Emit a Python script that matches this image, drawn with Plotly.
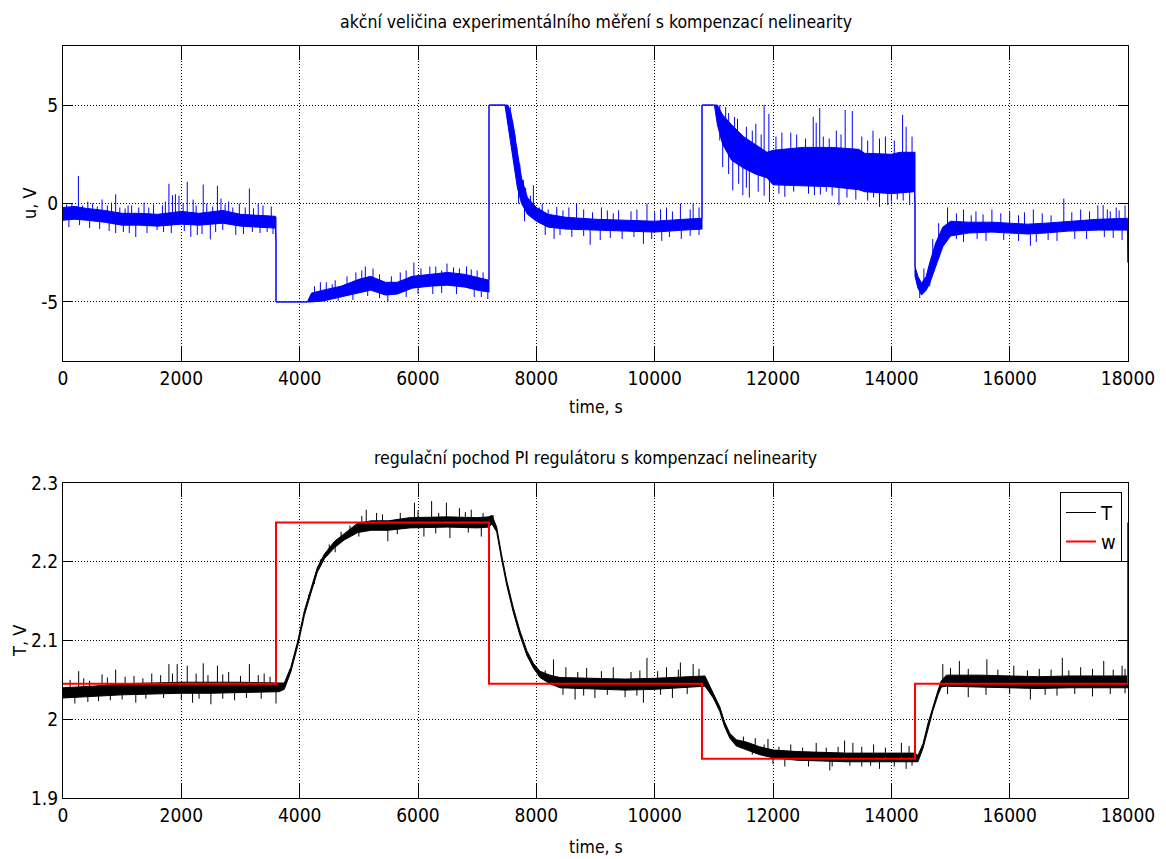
import numpy as np
import plotly.graph_objects as go

# ---------------- data ----------------
# u(t): dense noise band (lower / upper envelope) + individual spikes
U_T  = [0, 200, 400, 700, 1000, 1300, 1600, 2000, 2300, 2700, 3000, 3300, 3590, 3600, 3600, 4130,
        4200, 4400, 4700, 5000, 5200, 5450, 5650, 5900, 6200, 6500, 6800, 7000, 7190, 7200, 7200, 7470,
        7520, 7570, 7620, 7680, 7750, 7850, 8000, 8200, 8500, 9000, 9500, 10000, 10500, 10790, 10800, 10800, 11010,
        11060, 11150, 11300, 11500, 11700, 11900, 12000, 12500, 13000, 13450, 13550, 14000, 14150, 14390, 14400, 14400,
        14450, 14510, 14590, 14650, 14750, 14870, 15000, 15300, 15700, 16000, 16300, 16600, 17000, 17500, 17990, 18000]
U_LO = [-0.85, -0.8, -0.85, -0.95, -1.1, -1.1, -1.15, -1.05, -1.1, -1.0, -1.15, -1.2, -1.25, -1.9, -5, -5,
        -5.0, -4.95, -4.75, -4.55, -4.4, -4.65, -4.6, -4.3, -4.2, -4.15, -4.25, -4.4, -4.5, -4.5, 5, 5,
        4.0, 3.0, 1.9, 0.8, 0.0, -0.55, -0.9, -1.2, -1.3, -1.35, -1.4, -1.45, -1.35, -1.3, -1.3, 5, 5,
        4.0, 3.0, 2.2, 1.8, 1.5, 1.3, 0.95, 0.9, 0.85, 0.7, 0.6, 0.5, 0.55, 0.6, 0.0, -3.7,
        -4.3, -4.65, -4.4, -4.05, -3.2, -2.2, -1.65, -1.5, -1.45, -1.5, -1.55, -1.5, -1.4, -1.35, -1.35, -3.0]
U_HI = [-0.2, -0.15, -0.25, -0.35, -0.5, -0.5, -0.55, -0.4, -0.5, -0.35, -0.55, -0.6, -0.65, -0.7, -5, -5,
        -4.55, -4.4, -4.2, -3.85, -3.7, -4.0, -4.0, -3.7, -3.6, -3.5, -3.6, -3.75, -3.9, -3.9, 5, 5,
        5.0, 4.6, 3.8, 2.6, 1.3, 0.3, -0.2, -0.55, -0.7, -0.8, -0.85, -0.9, -0.8, -0.75, -0.75, 5, 5,
        5.0, 4.5, 4.0, 3.4, 3.0, 2.6, 2.7, 2.85, 2.85, 2.75, 2.55, 2.5, 2.6, 2.6, 2.6, -3.2,
        -3.7, -4.05, -3.7, -3.0, -2.0, -1.2, -0.9, -0.95, -0.95, -1.0, -1.05, -1.0, -0.9, -0.8, -0.75, -3.0]
# large spikes
U_SPIKE_T = [260, 660, 890, 1370, 1790, 1850, 1900, 1960, 2100, 2200, 2370, 2610, 2670, 2800, 3150, 3300, 500, 1100,
             890, 1230, 1590, 2160, 2270, 2490, 2920, 3450,
             4350, 4600, 5110, 5240, 5700, 5930, 6200, 6490, 6820, 7000, 5490, 4900, 6000, 7070, 7180,
             7670, 7950, 8100, 8345, 8680, 9100, 9390, 9870, 10200, 10435, 10650,
             8300, 8910, 9080, 9810, 10120, 10450,
             11200, 11400, 11710, 11850, 11930, 12300, 12680, 12730, 12790, 13070, 13220, 13340, 13690, 14190, 14250, 13900,
             11150, 11320, 11490, 11600, 11940, 12200, 12700, 12900, 13115, 13400, 13800, 13940, 14100, 14310,
             14950, 15220, 15430, 15700, 16000, 16400, 16915, 17200, 17490, 17580, 17800, 17950,
             15220, 15600, 16350, 16800, 17300, 17900]
U_SPIKE_V = [1.4, 0.2, 0.47, 0.05, 1.0, 0.42, 0.47, 0.4, 1.1, 0.2, 0.96, 0.9, 0.25, 0.1, 0.76, 0.0, 0.0, -0.1,
             -1.5, -1.7, -1.35, -1.7, -1.6, -1.82, -1.6, -1.45,
             -4.0, -3.9, -3.2, -3.3, -3.5, -3.0, -3.2, -3.05, -3.2, -3.4, -5.0, -4.9, -4.6, -4.75, -4.85,
             2.87, 0.93, 0.0, -0.17, 0.0, -0.2, -0.34, 0.0, -0.2, 0.0, 0.0,
             -1.8, -2.1, -1.85, -2.05, -1.9, -1.8,
             4.9, 4.3, 4.05, 5.0, 4.55, 3.6, 4.4, 4.1, 4.85, 3.7, 4.75, 4.7, 3.7, 4.5, 3.9, 3.4,
             1.85, 0.67, 0.42, 0.3, 0.08, 0.34, 0.42, 0.6, -0.08, 0.2, -0.17, -0.08, 0.2, -0.08,
             -0.2, -0.3, -0.4, -0.3, -0.4, -0.3, 0.25, -0.3, -0.1, -0.08, -0.2, -0.1,
             -1.95, -1.9, -2.15, -1.9, -1.8, -1.85]
# small spikes on the band edges
U_FUZZ_T = [60, 150, 330, 420, 580, 750, 820, 960, 1050, 1160, 1280, 1450, 1530, 1680, 1730, 2030, 2250, 2430,
            2530, 2740, 2870, 2980, 3080, 3220, 3380, 3520,
            100, 280, 450, 620, 780, 1020, 1120, 1420, 1700, 1830, 2050, 2350, 2580, 2700, 3050, 3200, 3330, 3550,
            4250, 4450, 4550, 4800, 4950, 5050, 5350, 5550, 5800, 6050, 6300, 6400, 6600, 6700, 6900, 7100,
            4300, 4650, 5150, 5350, 5800, 6250, 6400, 6650, 6950,
            7560, 7600, 7640, 7720, 7780, 7820, 7900, 8050, 8200, 8450, 8550, 8800, 8950, 9200, 9300, 9600, 9700,
            10000, 10100, 10300, 10600, 10750,
            7700, 7800, 8150, 8400, 8600, 8800, 9250, 9450, 9650, 9950, 10250, 10600, 10750,
            11100, 11250, 11350, 11550, 11650, 11800, 12050, 12150, 12400, 12550, 12850, 12950, 13150, 13500, 13600,
            13800, 14050, 14350,
            11100, 11250, 11420, 11550, 11750, 11850, 12100, 12350, 12600, 12800, 13000, 13250, 13600, 13700, 14000, 14200,
            14550, 14700, 14800, 15100, 15350, 15550, 15850, 16150, 16250, 16550, 16700, 17050, 17350, 17650, 17700, 17850,
            14480, 14650, 14800, 15100, 15450, 15900, 16150, 16450, 16650, 17100, 17600, 17750]
U_FUZZ_V = [-0.05, 0.0, -0.1, 0.1, -0.15, -0.1, 0.05, -0.2, -0.25, -0.1, -0.2, -0.2, -0.05, -0.1, 0.1, 0.0, -0.1, 0.0,
            -0.15, -0.05, -0.2, 0.0, -0.2, -0.25, -0.1, -0.15,
            -1.2, -1.1, -1.25, -1.3, -1.4, -1.45, -1.5, -1.5, -1.45, -1.5, -1.4, -1.55, -1.45, -1.35, -1.55, -1.45, -1.5, -1.55,
            -4.2, -4.0, -4.1, -3.7, -3.5, -3.4, -3.6, -3.7, -3.4, -3.3, -3.2, -3.4, -3.25, -3.3, -3.35, -3.5,
            -5.0, -4.95, -4.7, -4.8, -4.75, -4.6, -4.55, -4.6, -4.75,
            4.9, 4.2, 3.5, 2.0, 1.2, 0.8, 0.4, -0.2, -0.3, -0.35, -0.2, -0.3, -0.45, -0.35, -0.5, -0.4, -0.3,
            -0.45, -0.3, -0.4, -0.3, -0.2,
            0.0, -0.9, -1.6, -1.6, -1.7, -1.65, -1.75, -1.8, -1.7, -1.8, -1.7, -1.65, -1.6,
            5.0, 4.6, 4.4, 3.9, 3.7, 3.5, 3.4, 3.6, 3.5, 3.3, 3.4, 3.3, 3.5, 3.4, 3.2,
            3.3, 3.2, 3.4,
            3.2, 1.5, 1.0, 0.8, 0.6, 0.4, 0.5, 0.6, 0.5, 0.45, 0.4, 0.3, 0.15, 0.3, 0.1, 0.15,
            -3.3, -1.8, -1.0, -0.5, -0.6, -0.55, -0.5, -0.6, -0.45, -0.5, -0.6, -0.45, -0.4, -0.3, -0.4, -0.35,
            -4.8, -4.2, -2.8, -1.8, -1.8, -1.85, -1.9, -1.95, -1.85, -1.8, -1.7, -1.75]

# T(t): dense noise band + spikes
T_T  = [0, 500, 1000, 1500, 2000, 2500, 3000, 3650,
        3740, 3850, 3970, 4080, 4190, 4300, 4420, 4590, 4760, 4980, 5210, 5500, 5860, 6500, 7000, 7200, 7250,
        7330, 7410, 7500, 7610, 7720, 7840, 7950, 8060, 8230, 8400, 9000, 9500, 10000, 10500, 10850,
        10990, 11100, 11180, 11270, 11380, 11550, 11775, 12000, 12400, 13240, 14000, 14400,
        14450, 14535, 14620, 14700, 14790, 14845, 14930, 15500, 16000, 16500, 17000, 17500, 18000]
T_LO = [2.027, 2.029, 2.031, 2.032, 2.033, 2.033, 2.034, 2.035,
        2.038, 2.060, 2.094, 2.132, 2.160, 2.187, 2.204, 2.218, 2.228, 2.237, 2.240, 2.240, 2.243, 2.244, 2.243, 2.244, 2.248,
        2.238, 2.204, 2.170, 2.136, 2.107, 2.081, 2.065, 2.053, 2.045, 2.040, 2.038, 2.037, 2.038, 2.040, 2.042,
        2.027, 2.010, 1.991, 1.976, 1.966, 1.961, 1.955, 1.951, 1.948, 1.946, 1.946, 1.946,
        1.946, 1.963, 1.989, 2.010, 2.031, 2.041, 2.042, 2.041, 2.040, 2.039, 2.040, 2.040, 2.040]
T_HI = [2.040, 2.042, 2.045, 2.046, 2.047, 2.047, 2.047, 2.046,
        2.046, 2.066, 2.100, 2.138, 2.166, 2.193, 2.210, 2.226, 2.236, 2.249, 2.252, 2.252, 2.256, 2.257, 2.256, 2.257, 2.259,
        2.244, 2.210, 2.176, 2.142, 2.113, 2.087, 2.071, 2.061, 2.056, 2.053, 2.052, 2.051, 2.052, 2.054, 2.055,
        2.033, 2.016, 1.997, 1.982, 1.974, 1.971, 1.965, 1.961, 1.959, 1.957, 1.957, 1.957,
        1.954, 1.969, 1.995, 2.016, 2.037, 2.049, 2.056, 2.056, 2.055, 2.054, 2.055, 2.055, 2.055]
T_SPIKE_T = [265, 660, 890, 1200, 1500, 1790, 1930, 2100, 2370, 2610, 2800, 3150, 3400,
             1230, 600, 2190, 2500, 2900, 3600,
             5125, 5300, 5940, 6230, 6480, 6700, 6900, 7270, 5490, 6100, 6540, 7070,
             8290, 8500, 8850, 9300, 9870, 10200, 10435, 10650, 8655, 8990, 9500, 9810, 10300,
             11915, 11700, 12300, 12730, 13210, 13350, 13700, 14170, 12200, 12960, 13500, 13800, 14250,
             14870, 15150, 15615, 16070, 16500, 16890, 17200, 17590, 17900, 15300, 16350, 16800, 17400]
T_SPIKE_V = [2.061, 2.057, 2.063, 2.055, 2.058, 2.070, 2.070, 2.068, 2.071, 2.068, 2.060, 2.070, 2.058,
             2.021, 2.023, 2.021, 2.019, 2.024, 2.020,
             2.266, 2.262, 2.275, 2.277, 2.275, 2.268, 2.266, 2.259, 2.226, 2.232, 2.230, 2.232,
             2.076, 2.066, 2.065, 2.066, 2.078, 2.066, 2.072, 2.070, 2.025, 2.027, 2.028, 2.021, 2.027,
             1.975, 1.976, 1.968, 1.970, 1.973, 1.970, 1.968, 1.970, 1.940, 1.935, 1.940, 1.937, 1.937,
             2.070, 2.074, 2.076, 2.068, 2.064, 2.078, 2.066, 2.074, 2.068, 2.028, 2.025, 2.030, 2.029]
T_FUZZ_T = [120, 350, 450, 750, 1050, 1350, 1650, 1850, 2250, 2450, 2700, 3000, 3300, 3500,
            200, 420, 800, 1000, 1400, 1700, 2000, 2300, 2700, 3100, 3350,
            4000, 4150, 4350, 4500, 4700, 4850, 5050, 5400, 5700, 6000, 6350, 6800, 7100,
            4050, 4250, 4600, 5000, 5650, 6300, 6850,
            8150, 8700, 9100, 9600, 9750, 10050, 10400, 10750, 8450, 8800, 9200, 9700, 10100, 10550,
            11500, 11850, 12100, 12500, 12900, 13100, 13500, 13900, 14300,
            11650, 12000, 12600, 13000, 13300, 13650, 14050, 14350,
            15000, 15300, 15800, 16300, 16700, 17000, 17400, 17750, 17950,
            14950, 15600, 16000, 16600, 17100, 17700, 17950]
T_FUZZ_V = [2.050, 2.052, 2.049, 2.053, 2.054, 2.052, 2.056, 2.058, 2.058, 2.056, 2.057, 2.055, 2.056, 2.054,
            2.020, 2.022, 2.024, 2.025, 2.026, 2.027, 2.025, 2.026, 2.026, 2.027, 2.026,
            2.110, 2.158, 2.203, 2.222, 2.238, 2.246, 2.258, 2.260, 2.262, 2.265, 2.262, 2.263, 2.262,
            2.120, 2.172, 2.212, 2.232, 2.235, 2.236, 2.237,
            2.062, 2.060, 2.061, 2.060, 2.062, 2.061, 2.063, 2.064, 2.031, 2.030, 2.031, 2.030, 2.031, 2.032,
            1.978, 1.968, 1.965, 1.964, 1.964, 1.965, 1.965, 1.964, 1.966,
            1.955, 1.943, 1.940, 1.940, 1.941, 1.941, 1.940, 1.941,
            2.065, 2.064, 2.063, 2.062, 2.063, 2.062, 2.064, 2.063, 2.064,
            2.032, 2.031, 2.032, 2.031, 2.032, 2.032, 2.033]

# setpoint w(t): step levels
W_T = [0, 3600, 7200, 10800, 14400, 18000]
W_V = [2.045, 2.25, 2.045, 1.95, 2.045, 2.25]

X_TICKS = [0, 2000, 4000, 6000, 8000, 10000, 12000, 14000, 16000, 18000]
X_TICKTEXT = [str(v) for v in X_TICKS]
U_TICKS = [-5, 0, 5]
U_TICKTEXT = ["-5", "0", "5"]
T_TICKS = [1.9, 2.0, 2.1, 2.2, 2.3]
T_TICKTEXT = ["1.9", "2", "2.1", "2.2", "2.3"]

TITLE_TOP = "akční veličina experimentálního měření s kompenzací nelinearity"
TITLE_BOT = "regulační pochod PI regulátoru s kompenzací nelinearity"

# ---------------- figure ----------------
FONT = "DejaVu Sans Condensed, Liberation Sans Narrow, Arial Narrow, sans-serif"
W, H = 1166, 859
BLUE = "#0000ff"


def spikes(st, sv, bt, blo, bhi):
    mid = (np.asarray(blo) + np.asarray(bhi)) / 2.0
    base = np.interp(st, bt, mid)
    xs, ys = [], []
    for t, v, b in zip(st, sv, base):
        xs += [t, t, None]
        ys += [b, v, None]
    return xs, ys


fig = go.Figure()

# --- u panel ---
fig.add_trace(go.Scatter(x=U_T, y=U_LO, mode="lines", line=dict(color=BLUE, width=1),
                         showlegend=False, hoverinfo="skip", xaxis="x", yaxis="y"))
fig.add_trace(go.Scatter(x=U_T, y=U_HI, mode="lines", line=dict(color=BLUE, width=1),
                         fill="tonexty", fillcolor=BLUE,
                         showlegend=False, hoverinfo="skip", xaxis="x", yaxis="y"))
sx, sy = spikes(U_SPIKE_T + U_FUZZ_T, U_SPIKE_V + U_FUZZ_V, U_T, U_LO, U_HI)
fig.add_trace(go.Scatter(x=sx, y=sy, mode="lines", line=dict(color=BLUE, width=1),
                         showlegend=False, hoverinfo="skip", xaxis="x", yaxis="y"))

# --- T panel ---
fig.add_trace(go.Scatter(x=T_T, y=T_LO, mode="lines", line=dict(color="black", width=1),
                         showlegend=False, hoverinfo="skip", xaxis="x2", yaxis="y2"))
fig.add_trace(go.Scatter(x=T_T, y=T_HI, mode="lines", line=dict(color="black", width=1),
                         fill="tonexty", fillcolor="black",
                         showlegend=False, hoverinfo="skip", xaxis="x2", yaxis="y2"))
sx, sy = spikes(T_SPIKE_T + T_FUZZ_T, T_SPIKE_V + T_FUZZ_V, T_T, T_LO, T_HI)
fig.add_trace(go.Scatter(x=sx, y=sy, mode="lines", line=dict(color="black", width=1),
                         showlegend=False, hoverinfo="skip", xaxis="x2", yaxis="y2"))
# legend proxy for T
fig.add_trace(go.Scatter(x=[None], y=[None], mode="lines", name="T",
                         line=dict(color="black", width=1), xaxis="x2", yaxis="y2"))
fig.add_trace(go.Scatter(x=W_T, y=W_V, mode="lines", name="w", line_shape="hv",
                         line=dict(color="#ff0000", width=2), xaxis="x2", yaxis="y2"))

xd = [63 / W, 1128 / W]
axis_common = dict(showline=True, linecolor="black", linewidth=1, mirror="allticks",
                   ticks="inside", tickcolor="black", showgrid=True, gridcolor="black",
                   griddash="1px,2px", gridwidth=1, zeroline=False,
                   tickfont=dict(family=FONT, size=19, color="black"), automargin=False)

fig.update_layout(
    template="none",
    width=W, height=H,
    margin=dict(l=0, r=0, t=0, b=0),
    paper_bgcolor="white", plot_bgcolor="white",
    font=dict(family=FONT, color="black"),
    xaxis=dict(domain=xd, anchor="y", range=[0, 18000], tickvals=X_TICKS, ticktext=X_TICKTEXT,
               ticklen=14, **axis_common),
    yaxis=dict(domain=[1 - 361 / H, 1 - 46 / H], anchor="x", range=[-8, 8], tickvals=U_TICKS,
               ticktext=U_TICKTEXT, ticklen=10, **axis_common),
    xaxis2=dict(domain=xd, anchor="y2", range=[0, 18000], tickvals=X_TICKS, ticktext=X_TICKTEXT,
                ticklen=14, **axis_common),
    yaxis2=dict(domain=[1 - 798 / H, 1 - 483 / H], anchor="x2", range=[1.9, 2.3], tickvals=T_TICKS,
                ticktext=T_TICKTEXT, ticklen=10, **axis_common),
    showlegend=True,
    legend=dict(x=1122 / W, xanchor="right", y=1 - 492 / H, yanchor="top", traceorder="normal",
                bgcolor="white", bordercolor="black", borderwidth=1,
                font=dict(family=FONT, size=20, color="black"), tracegroupgap=0),
)

ann = [
    dict(text=TITLE_TOP, x=0.5 * (xd[0] + xd[1]), y=1 - 22 / H, size=17.5, angle=0),
    dict(text=TITLE_BOT, x=0.5 * (xd[0] + xd[1]), y=1 - 458 / H, size=17.5, angle=0),
    dict(text="time, s", x=0.5 * (xd[0] + xd[1]), y=1 - 407 / H, size=17.5, angle=0),
    dict(text="time, s", x=0.5 * (xd[0] + xd[1]), y=1 - 847 / H, size=17.5, angle=0),
    dict(text="u, V", x=29 / W, y=1 - 203 / H, size=18, angle=-90),
    dict(text="T, V", x=19 / W, y=1 - 641 / H, size=18, angle=-90),
]
for a in ann:
    fig.add_annotation(text=a["text"], x=a["x"], y=a["y"], xref="paper", yref="paper",
                       xanchor="center", yanchor="middle", showarrow=False, textangle=a["angle"],
                       font=dict(family=FONT, size=a["size"], color="black"))

fig.write_html("out.html")
